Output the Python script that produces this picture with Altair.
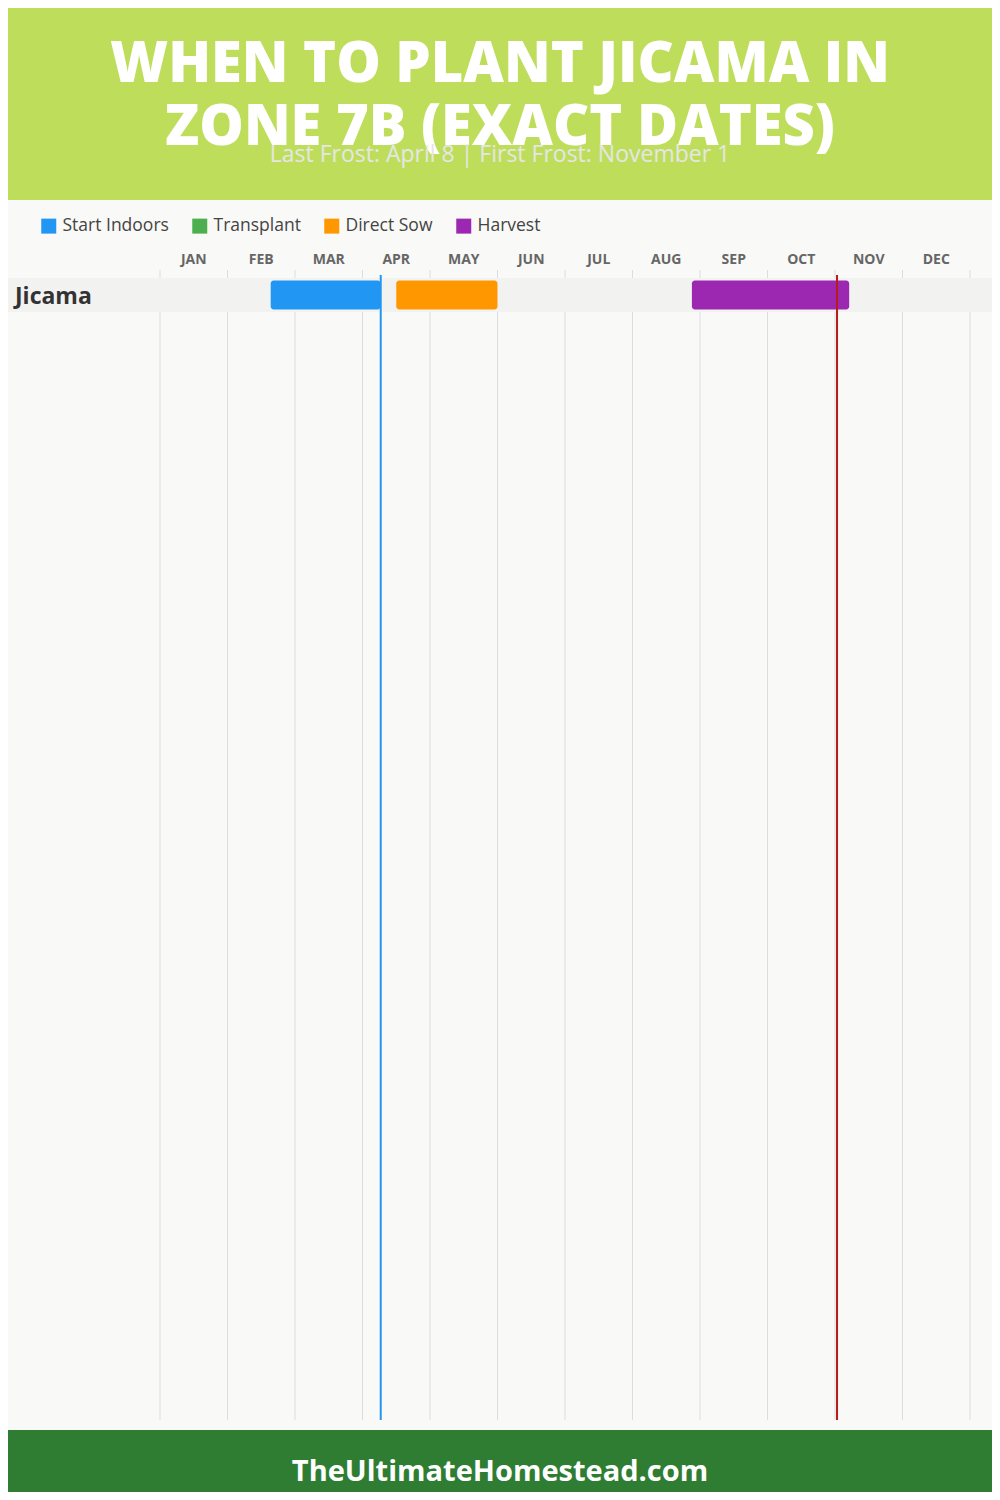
import altair as alt
import pandas as pd

# ---- data ----
crops = ["Jicama"]
phase_names = ["Start Indoors", "Direct Sow", "Harvest"]
phase_start = [1.64, 3.50, 7.88]   # month position (0 = Jan 1)
phase_end = [3.27, 5.00, 10.21]
legend_names = ["Start Indoors", "Transplant", "Direct Sow", "Harvest"]
legend_colors = ["#2196F3", "#4CAF50", "#FF9800", "#9C27B0"]
months = ["JAN", "FEB", "MAR", "APR", "MAY", "JUN", "JUL", "AUG", "SEP", "OCT", "NOV", "DEC"]
month_edges = list(range(13))
last_frost = 3.27   # April 8
first_frost = 10.03  # November 1
title_lines = ["WHEN TO PLANT JICAMA IN", "ZONE 7B (EXACT DATES)"]
subtitle = "Last Frost: April 8 | First Frost: November 1"
footer = "TheUltimateHomestead.com"

W, H = 984, 1484
XR = [152, 962]
xs = alt.Scale(domain=[0, 12], range=XR)
ys = alt.Scale(domain=crops, range=[270, 304], paddingInner=0, paddingOuter=0)

phases = pd.DataFrame({"crop": crops * len(phase_names), "phase": phase_names,
                       "start": phase_start, "end": phase_end})
mdf = pd.DataFrame({"month": months, "pos": [i + 0.5 for i in range(12)]})
edf = pd.DataFrame({"edge": month_edges})
frost = pd.DataFrame({"x": [last_frost, first_frost], "kind": ["last", "first"]})
rowdf = pd.DataFrame({"crop": crops})

FONT = "Open Sans"

header = alt.Chart(pd.DataFrame({"a": [0]})).mark_rect(color="#BEDE5B").encode(
    x=alt.value(0), x2=alt.value(W), y=alt.value(0), y2=alt.value(192))
footer_bg = alt.Chart(pd.DataFrame({"a": [0]})).mark_rect(color="#2E7D32").encode(
    x=alt.value(0), x2=alt.value(W), y=alt.value(1422), y2=alt.value(H))

tdf = pd.DataFrame({"t": title_lines, "yy": [74, 137]})
title = alt.Chart(tdf).mark_text(font=FONT, fontWeight=800, fontSize=56, color="white",
                                 align="center", baseline="alphabetic").encode(
    text="t:N", x=alt.value(492), y=alt.Y("yy:Q", scale=None))
sub = alt.Chart(pd.DataFrame({"t": [subtitle]})).mark_text(
    font=FONT, fontSize=23, color="#E6E6E6", align="center", baseline="alphabetic").encode(
    text="t:N", x=alt.value(492), y=alt.value(154))
foot = alt.Chart(pd.DataFrame({"t": [footer]})).mark_text(
    font=FONT, fontWeight="bold", fontSize=29, color="white", align="center", baseline="alphabetic").encode(
    text="t:N", x=alt.value(492), y=alt.value(1473))

grid = alt.Chart(edf).mark_rule(color="#DDDDDD", strokeWidth=1).encode(
    x=alt.X("edge:Q", scale=xs, axis=None), y=alt.value(262), y2=alt.value(1412))

mlabels = alt.Chart(mdf).mark_text(font=FONT, fontWeight="bold", fontSize=14, color="#666666",
                                   baseline="alphabetic").encode(
    x=alt.X("pos:Q", scale=xs, axis=None), y=alt.value(256), text="month:N")

band = alt.Chart(rowdf).mark_rect(color="#F2F2F1").encode(
    y=alt.Y("crop:N", scale=ys, axis=None), x=alt.value(0), x2=alt.value(W))

rowlab = alt.Chart(rowdf).mark_text(font=FONT, fontWeight="bold", fontSize=23, color="#333333",
                                    align="left", baseline="alphabetic", dy=9).encode(
    y=alt.Y("crop:N", scale=ys, axis=None), x=alt.value(7), text="crop:N")

bars = alt.Chart(phases).mark_bar(cornerRadius=3, height={"band": 0.85}).encode(
    x=alt.X("start:Q", scale=xs, axis=None), x2="end:Q",
    y=alt.Y("crop:N", scale=ys, axis=None),
    color=alt.Color("phase:N", scale=alt.Scale(domain=legend_names, range=legend_colors),
                    legend=alt.Legend(title=None, orient="none", legendX=32, legendY=209,
                                      direction="horizontal", symbolType="square",
                                      symbolSize=225, symbolStrokeWidth=0, symbolOpacity=1,
                                      labelFont=FONT, labelFontSize=17.5, labelColor="#444444",
                                      labelOffset=5, columnPadding=22, padding=0)))

frost_lines = alt.Chart(frost).mark_rule(strokeWidth=2).encode(
    x=alt.X("x:Q", scale=xs, axis=None), y=alt.value(267), y2=alt.value(1412),
    color=alt.Color("kind:N", scale=alt.Scale(domain=["last", "first"], range=["#2196F3", "#B71C1C"]),
                    legend=None))

chart = alt.layer(header, footer_bg, grid, band, mlabels, rowlab, bars, frost_lines,
                  title, sub, foot).resolve_scale(color="independent").properties(
    width=W, height=H, autosize=alt.AutoSizeParams(type="none"), padding=0,
    background="#F9F9F7").configure_view(stroke=None, fill="#F9F9F7")

chart.save("out.html", embed_options={"renderer": "svg", "actions": False})
